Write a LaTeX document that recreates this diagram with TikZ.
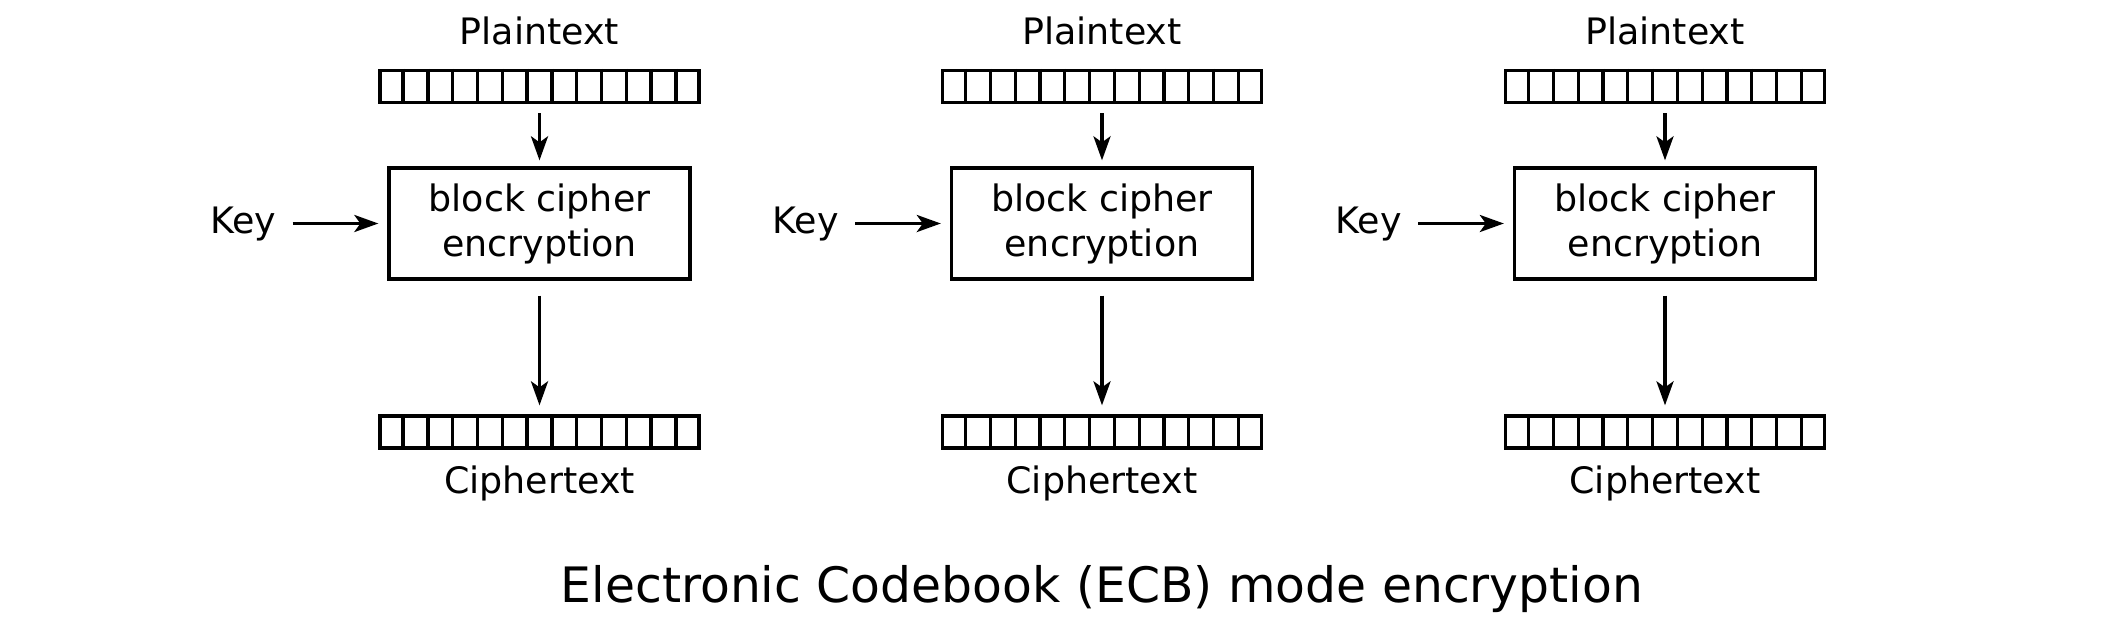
\documentclass[tikz,border=0pt]{standalone}
\usepackage{fontspec}
\setmainfont{DejaVu Sans}
\usetikzlibrary{arrows.meta,calc}
\begin{document}
\begin{tikzpicture}[x=1pt,y=-1pt,
  lbl/.style={anchor=base, inner sep=0pt, font=\fontsize{36.4}{45}\selectfont},
  register/.style={draw, line width=3.3pt, minimum width=319pt, minimum height=32pt, inner sep=0pt},
  cipherbox/.style={draw, line width=3.3pt, minimum width=301pt, minimum height=111pt, inner sep=0pt, align=center, font=\fontsize{36.4}{45}\selectfont},
  arr/.style={line width=3.5pt, -{Stealth[length=24pt,width=17pt,inset=6pt]}},
  title/.style={anchor=base, inner sep=0pt, font=\fontsize{48.8}{60}\selectfont}
]
\useasboundingbox (0,0) rectangle (2124,626);
\foreach \n/\cx in {1/539.5,2/1102,3/1665}{
  \node[lbl] (pt\n) at (\cx,45) {Plaintext};
  \node[register] (pr\n) at (\cx,86.5) {};
  \node[cipherbox] (bc\n) at (\cx,223.5) {block cipher\\encryption};
  \node[register] (cr\n) at (\cx,432) {};
  \node[lbl] (ct\n) at (\cx,493) {Ciphertext};
  \node[lbl, anchor=base east] (key\n) at ({\cx-263},233) {Key};
  \foreach \k in {1,...,12}{
    \draw[line width=3.3pt] ($(pr\n.north west)!\k/13!(pr\n.north east)$) -- ($(pr\n.south west)!\k/13!(pr\n.south east)$);
    \draw[line width=3.3pt] ($(cr\n.north west)!\k/13!(cr\n.north east)$) -- ($(cr\n.south west)!\k/13!(cr\n.south east)$);
  }
  \draw[arr, shorten <=9pt, shorten >=6pt] (pr\n.south) -- (bc\n.north);
  \draw[arr, shorten <=15pt, shorten >=9pt] (bc\n.south) -- (cr\n.north);
  \draw[arr, shorten <=16pt, shorten >=9pt] (key\n.east |- bc\n.center) -- (bc\n.west);
}
\node[title] (ttl) at (1102,602) {Electronic Codebook (ECB) mode encryption};
\end{tikzpicture}
\end{document}
